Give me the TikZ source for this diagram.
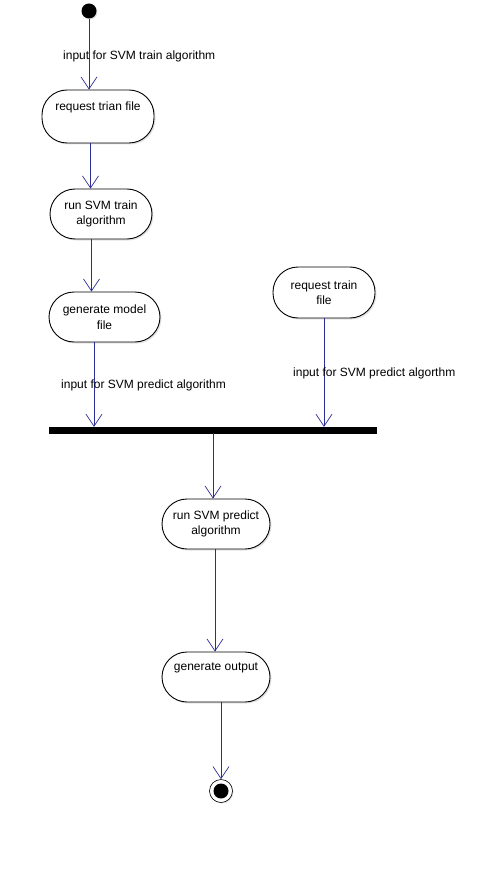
\documentclass[tikz,border=0pt]{standalone}
\usepackage{fontspec}
\setmainfont{Liberation Sans}
\usetikzlibrary{arrows.meta,shadows,calc}
\definecolor{flowblue}{RGB}{45,45,150}
\tikzset{
  act/.style={draw=black, line width=0.9pt, fill=white, rounded corners=25pt,
    align=center, inner sep=0pt, font=\fontsize{12}{15.5}\selectfont,
    drop shadow={shadow xshift=1.5pt, shadow yshift=-1.5pt, fill=black!22}},
  flow/.style={draw=flowblue, line width=0.8pt,
    -{Straight Barb[length=12pt,width=16pt,line width=0.7pt]}},
  lbl/.style={anchor=base west, inner sep=0pt, font=\fontsize{12}{15}\selectfont},
}
\begin{document}
\begin{tikzpicture}[x=1pt,y=-1pt]
\useasboundingbox (0,0) rectangle (479,885);
% start
\node[circle, fill=black, minimum size=15pt, inner sep=0pt,
  drop shadow={shadow xshift=1pt, shadow yshift=-1pt, fill=black!25}] (start) at (89,11) {};
% activities
\node[act, minimum width=112pt, minimum height=53pt] (A) at (98,116.5) {request trian file\\\strut};
\node[act, minimum width=102pt, minimum height=50pt] (B) at (101,214) {run SVM train\\algorithm};
\node[act, minimum width=111pt, minimum height=50pt] (C) at (104.5,317) {generate model\\file};
\node[act, minimum width=102pt, minimum height=51pt] (D) at (324,292.5) {request train\\file};
\node[draw=black, fill=black, minimum width=327pt, minimum height=6pt, inner sep=0pt,
  drop shadow={shadow xshift=1pt, shadow yshift=-1pt, fill=black!25}] (bar) at (212.5,430) {};
\node[act, minimum width=108pt, minimum height=50pt] (E) at (216,524) {run SVM predict\\algorithm};
\node[act, minimum width=108pt, minimum height=50pt] (F) at (216,677) {generate output\\\strut};
% end
\node[circle, draw=black, line width=0.6pt, fill=white, minimum size=23pt, inner sep=0pt,
  drop shadow={shadow xshift=1pt, shadow yshift=-1pt, fill=black!25}] (end) at (221,791) {};
\node[circle, fill=black, minimum size=15pt, inner sep=0pt] (endin) at (end.center) {};
% x positions
\coordinate (x1) at (89,0);
\coordinate (x2) at (90.5,0);
\coordinate (x3) at (91.5,0);
\coordinate (x4) at (94,0);
\coordinate (x5) at (324,0);
\coordinate (x6) at (213,0);
\coordinate (x7) at (215,0);
\coordinate (x8) at (221,0);
% flows
\draw[flow] (start) -- (A.north -| x1);
\draw[flow] (A.south -| x2) -- (B.north -| x2);
\draw[flow] (B.south -| x3) -- (C.north -| x3);
\draw[flow] (C.south -| x4) -- (bar.north -| x4);
\draw[flow] (D.south -| x5) -- (bar.north -| x5);
\draw[flow] (bar.south -| x6) -- (E.north -| x6);
\draw[flow] (E.south -| x7) -- (F.north -| x7);
\draw[flow] (F.south -| x8) -- (end.north);
% labels
\node[lbl] (l1) at (63,60) {input for SVM train algorithm};
\node[lbl] (l2) at (61,388) {input for SVM predict algorithm};
\node[lbl] (l3) at (293,376) {input for SVM predict algorthm};
\end{tikzpicture}
\end{document}
